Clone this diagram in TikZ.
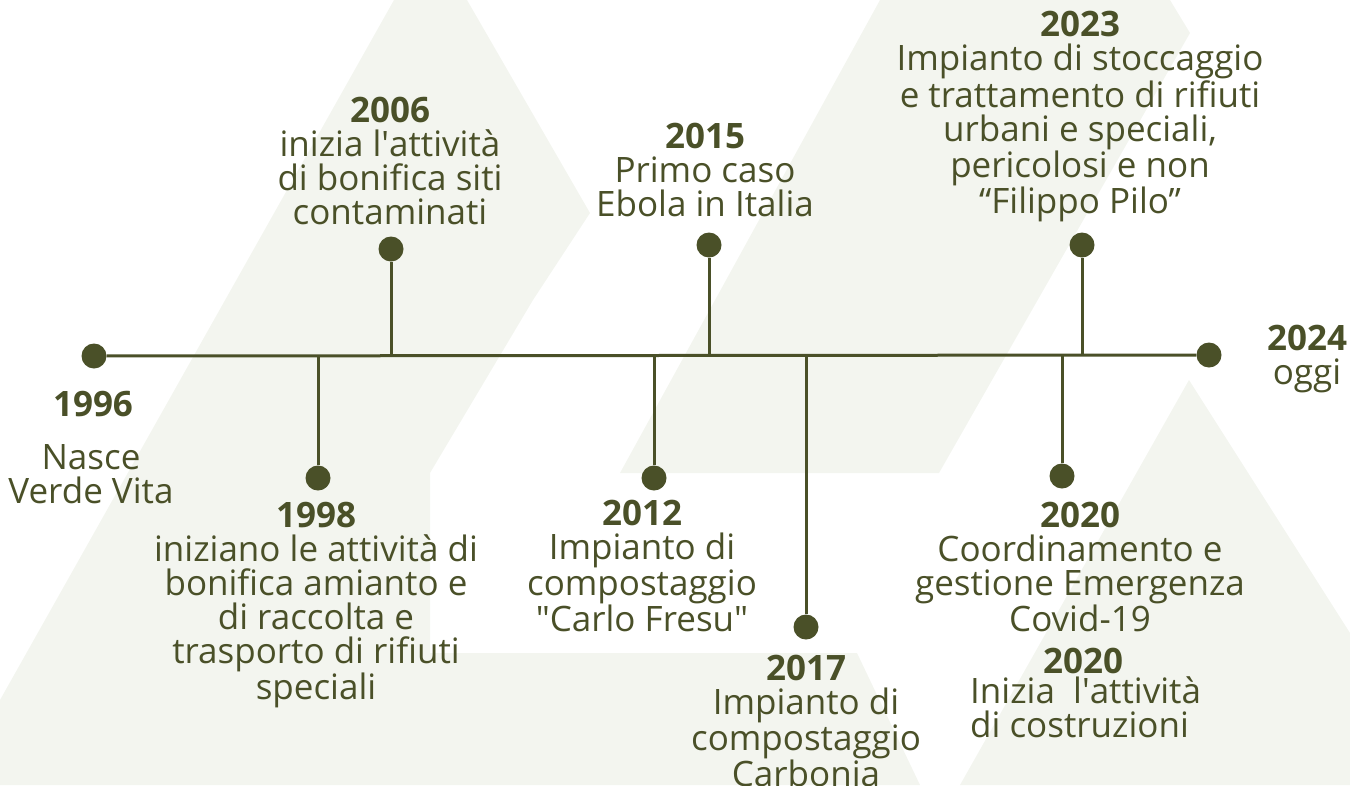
\documentclass[tikz,border=0pt]{standalone}
\usepackage{fontspec}
\setmainfont{Open Sans}
\definecolor{vvgreen}{RGB}{74,80,40}
\definecolor{vvbg}{RGB}{243,245,239}
\newcommand{\apo}{\textquotesingle}
\begin{document}
\begin{tikzpicture}[x=1pt,y=-1pt,
    dot/.style={circle,fill=vvgreen,inner sep=0pt,minimum size=25pt},
    lbl/.style={text=vvgreen,align=center,anchor=base,inner sep=0pt,
      font=\fontsize{35}{34}\selectfont},
    stem/.style={draw=vvgreen,line width=3pt}]
  \useasboundingbox (0,0) rectangle (1350,785);
  % background
  \fill[vvbg] (394,0) -- (467,0) -- (590,213) -- (533,300) -- (430,473)
    -- (430,653) -- (857,653) -- (920,785) -- (0,785) -- (0,700) -- cycle;
  \fill[vvbg] (880,0) -- (1170,0) -- (1190,33) -- (939,473) -- (620,473) -- cycle;
  \fill[vvbg] (1189,380) -- (1350,633) -- (1350,785) -- (960,785) -- cycle;
  % dots
  \node[dot] (d1996) at (94,356) {};
  \node[dot] (d2024) at (1209,355) {};
  \node[dot] (d1998) at (318,478) {};
  \node[dot] (d2006) at (391,249) {};
  \node[dot] (d2012) at (654,478) {};
  \node[dot] (d2015) at (709,245) {};
  \node[dot] (d2017) at (806,627) {};
  \node[dot] (d2020) at (1062,476) {};
  \node[dot] (d2023) at (1082,245) {};
  \coordinate (a1998) at (318,355);
  \coordinate (a2006) at (391,355);
  \coordinate (a2012) at (654,355);
  \coordinate (a2015) at (709,355);
  \coordinate (a2017) at (806,355);
  \coordinate (a2020) at (1062,355);
  \coordinate (a2023) at (1082,355);
  \begin{scope}[stem]
    \draw (d1996) -- (d2024);
    \draw (d1998) -- (a1998);
    \draw (d2006) -- (a2006);
    \draw (d2012) -- (a2012);
    \draw (d2015) -- (a2015);
    \draw (d2017) -- (a2017);
    \draw (d2020) -- (a2020);
    \draw (d2023) -- (a2023);
  \end{scope}
  % labels (base = last line)
  \node[lbl] (y1996) at (93,416) {\textbf{1996}};
  \node[lbl] (t1996) at (91,503) {Nasce\\Verde Vita};
  \node[lbl] (t2006) at (390,224) {\textbf{2006}\\inizia l\apo attività\\di bonifica siti\\contaminati};
  \node[lbl] (t1998) at (316,699) {\textbf{1998}\\iniziano le attività di\\bonifica amianto e\\di raccolta e\\trasporto di rifiuti\\speciali};
  \node[lbl] (t2012) at (642,631) {\textbf{2012}\\Impianto di\\compostaggio\\\textquotedbl Carlo Fresu\textquotedbl};
  \node[lbl] (t2015) at (705,216) {\textbf{2015}\\Primo caso\\Ebola in Italia};
  \node[lbl] (t2017) at (806,786) {\textbf{2017}\\Impianto di\\compostaggio\\Carbonia};
  \node[lbl] (t2020) at (1080,631) {\textbf{2020}\\Coordinamento e\\gestione Emergenza\\Covid-19};
  \node[lbl] (y2020) at (1083,673) {\textbf{2020}};
  \node[lbl,align=left,anchor=base west] (c2020) at (970,737) {Inizia\ \ l\apo attività\\di costruzioni};
  \node[lbl] (t2023) at (1080,213) {\textbf{2023}\\Impianto di stoccaggio\\e trattamento di rifiuti\\urbani e speciali,\\pericolosi e non\\“Filippo Pilo”};
  \node[lbl] (t2024) at (1307,384) {\textbf{2024}\\oggi};
\end{tikzpicture}
\end{document}
